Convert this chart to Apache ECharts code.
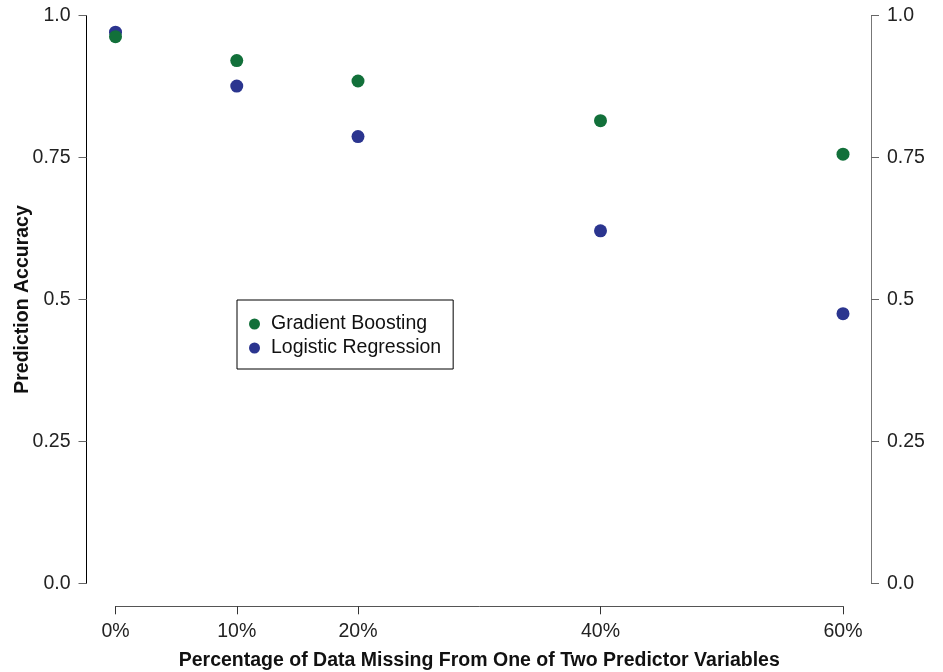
<!DOCTYPE html>
<html>
<head>
<meta charset="utf-8">
<script src="https://cdn.jsdelivr.net/npm/echarts@6/dist/echarts.min.js"></script>
<style>
  html, body { margin: 0; padding: 0; background: #fff; }
  #chart { width: 943px; height: 672px; }
</style>
</head>
<body>
<div id="chart"></div>
<script>
// Percentage of data removed from one predictor
const missingPct = [0, 10, 20, 40, 60];
const xTickLabels = ['0%', '10%', '20%', '40%', '60%'];
// Prediction accuracy per model
const gradientBoosting = [0.963, 0.921, 0.885, 0.815, 0.756];
const logisticRegression = [0.971, 0.876, 0.787, 0.621, 0.475];
const yTicks = [0, 0.25, 0.5, 0.75, 1];
const yTickLabels = ['0.0', '0.25', '0.5', '0.75', '1.0'];

const FONT = '"Liberation Sans", Arial, sans-serif';
const FS = 19.5;
const GREEN = '#12703a';
const BLUE = '#2b358f';

function pairs(xs, ys) { return xs.map((x, i) => [x, ys[i]]); }
function yLabel(v) {
  const i = yTicks.findIndex(t => Math.abs(t - v) < 1e-9);
  return i >= 0 ? yTickLabels[i] : '';
}

const chart = echarts.init(document.getElementById('chart'));
chart.setOption({
  backgroundColor: '#fff',
  animation: false,
  textStyle: { fontFamily: FONT },
  grid: {
    left: 115.5, right: 100, top: 15.7, bottom: 88.7,
    containLabel: false, outerBoundsMode: 'none'
  },
  legend: {
    orient: 'vertical',
    left: 237, top: 300,
    borderColor: '#000', borderWidth: 1,
    padding: [14, 12, 11, 12],
    itemGap: 4,
    itemWidth: 11, itemHeight: 11,
    icon: 'circle',
    textStyle: { fontSize: FS, color: '#111', fontFamily: FONT, padding: [0, 0, 0, 6] },
    data: ['Gradient Boosting', 'Logistic Regression']
  },
  xAxis: {
    type: 'value', min: 0, max: 60,
    offset: 23,
    name: 'Percentage of Data Missing From One of Two Predictor Variables',
    nameLocation: 'middle', nameGap: 44, nameMoveOverlap: false,
    nameTextStyle: { fontSize: FS, fontWeight: 'bold', color: '#111', fontFamily: FONT },
    axisLine: { show: true, onZero: false, lineStyle: { color: '#555', width: 1 } },
    axisTick: { show: true, length: 8, lineStyle: { color: '#333' }, customValues: missingPct },
    axisLabel: {
      fontSize: FS, color: '#222', margin: 15, fontFamily: FONT,
      customValues: missingPct,
      formatter: v => xTickLabels[missingPct.indexOf(v)] || ''
    },
    splitLine: { show: false }
  },
  yAxis: [{
    type: 'value', min: 0, max: 1, interval: 0.25,
    position: 'left', offset: 29,
    name: 'Prediction Accuracy',
    nameLocation: 'middle', nameGap: 54, nameMoveOverlap: false,
    nameTextStyle: { fontSize: FS, fontWeight: 'bold', color: '#111', fontFamily: FONT },
    axisLine: { show: true, onZero: false, lineStyle: { color: '#000', width: 1 } },
    axisTick: { show: true, length: 8, lineStyle: { color: '#666' } },
    axisLabel: { fontSize: FS, color: '#222', margin: 16, fontFamily: FONT, formatter: yLabel },
    splitLine: { show: false }
  }, {
    type: 'value', min: 0, max: 1, interval: 0.25,
    position: 'right', offset: 28,
    axisLine: { show: true, onZero: false, lineStyle: { color: '#777', width: 1 } },
    axisTick: { show: true, length: 8, lineStyle: { color: '#666' } },
    axisLabel: { fontSize: FS, color: '#222', margin: 16, fontFamily: FONT, formatter: yLabel },
    splitLine: { show: false }
  }],
  series: [{
    name: 'Logistic Regression',
    type: 'scatter',
    symbolSize: 13,
    itemStyle: { color: BLUE, opacity: 1 },
    data: pairs(missingPct, logisticRegression)
  }, {
    name: 'Gradient Boosting',
    type: 'scatter',
    symbolSize: 13,
    itemStyle: { color: GREEN, opacity: 1 },
    data: pairs(missingPct, gradientBoosting)
  }]
});
</script>
</body>
</html>
